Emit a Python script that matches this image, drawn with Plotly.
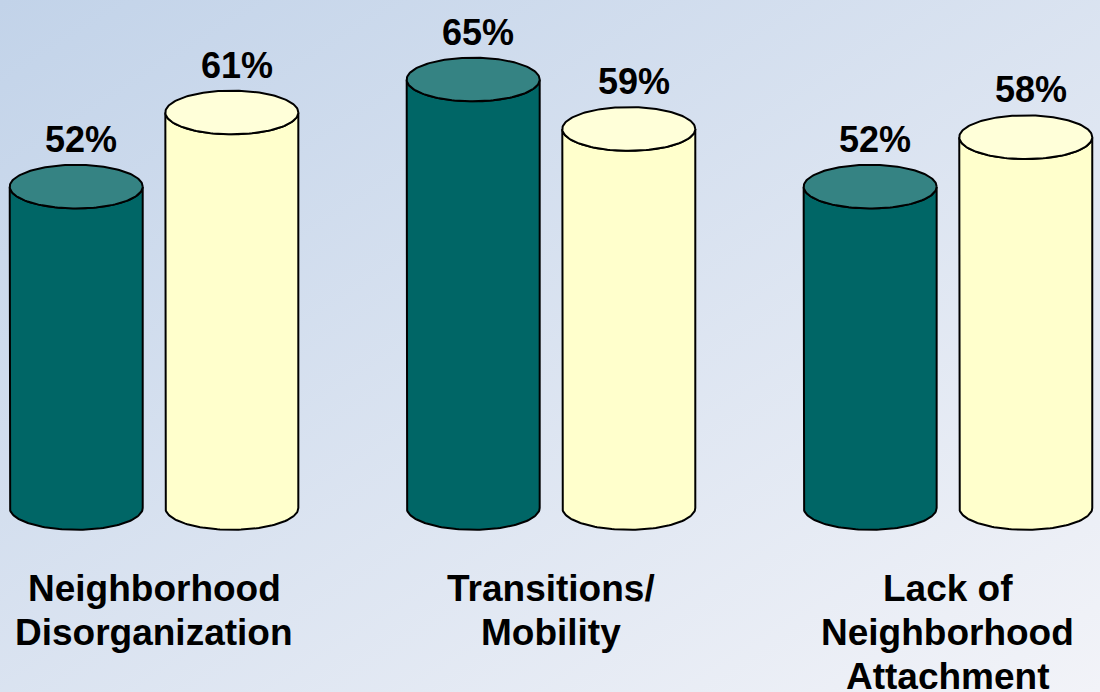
import base64

import numpy as np
import plotly.graph_objects as go

# data
categories = ["Neighborhood<br>Disorganization", "Transitions/<br>Mobility", "Lack of<br>Neighborhood<br>Attachment"]
dark_values = [52, 65, 52]
light_values = [61, 59, 58]
value_labels_dark = [f"{v}%" for v in dark_values]
value_labels_light = [f"{v}%" for v in light_values]

DARK_BODY, DARK_TOP = "#006666", "#358383"
LIGHT_BODY, LIGHT_TOP = "#FFFFCC", "#FFFFD9"
FONT = "Arial, Liberation Sans, sans-serif"

# cylinder geometry in axis units
BASE = 13.0      # axis value where the cylinders stand
RX = 0.1675      # half width of a cylinder
RY = 2.65        # half height of the ellipses
OFFSET = 0.196   # distance of each cylinder from its group centre
LINE_GAP = 44    # px between label lines


def add_cylinder(fig, xc, value, body, top):
    t = np.linspace(0, np.pi, 80)
    bx = xc - RX * np.cos(t)
    by = BASE - RY * np.sin(t)
    tx = xc + RX * np.cos(t)
    ty = value - RY * np.sin(t)
    fig.add_trace(go.Scatter(
        x=np.concatenate([[xc - RX], bx, tx]),
        y=np.concatenate([[value], by, ty]),
        mode="lines", fill="toself", fillcolor=body,
        line=dict(color="black", width=2), hoverinfo="skip", showlegend=False,
    ))
    a = np.linspace(0, 2 * np.pi, 160)
    fig.add_trace(go.Scatter(
        x=xc + RX * np.cos(a), y=value + RY * np.sin(a),
        mode="lines", fill="toself", fillcolor=top,
        line=dict(color="black", width=2), hoverinfo="skip", showlegend=False,
    ))


fig = go.Figure()
for i, (d, l) in enumerate(zip(dark_values, light_values)):
    add_cylinder(fig, i - OFFSET, d, DARK_BODY, DARK_TOP)
    add_cylinder(fig, i + OFFSET, l, LIGHT_BODY, LIGHT_TOP)

# value labels above the cylinders
for i, (d, l) in enumerate(zip(dark_values, light_values)):
    for xc, v, txt in [(i - OFFSET, d, value_labels_dark[i]), (i + OFFSET, l, value_labels_light[i])]:
        fig.add_annotation(x=xc, y=v + RY, text=f"<b>{txt}</b>", showarrow=False,
                           xanchor="center", yanchor="bottom", xshift=5, yshift=3,
                           font=dict(family=FONT, size=36, color="black"))

# category labels under each group, one annotation per line for tighter spacing
for i, cat in enumerate(categories):
    for k, line in enumerate(cat.split("<br>")):
        fig.add_annotation(x=i, y=0.182, yref="paper", text=f"<b>{line}</b>", showarrow=False,
                           xanchor="center", yanchor="top", yshift=-LINE_GAP * k,
                           font=dict(family=FONT, size=37, color="black"))

svg = (
    '<svg xmlns="http://www.w3.org/2000/svg" width="1100" height="692" preserveAspectRatio="none">'
    '<defs><linearGradient id="g" x1="0" y1="0" x2="1" y2="1">'
    '<stop offset="0" stop-color="#C2D3E9"/><stop offset="1" stop-color="#F2F3F8"/>'
    '</linearGradient></defs><rect width="1100" height="692" fill="url(#g)"/></svg>'
)
bg = "data:image/svg+xml;base64," + base64.b64encode(svg.encode()).decode()

fig.update_layout(
    width=1100, height=692,
    margin=dict(l=0, r=0, t=0, b=0),
    paper_bgcolor="rgba(0,0,0,0)", plot_bgcolor="rgba(0,0,0,0)",
    images=[dict(source=bg, xref="paper", yref="paper", x=0, y=1, sizex=1, sizey=1,
                 sizing="stretch", layer="below")],
    xaxis=dict(range=[-0.388, 2.383], visible=False, fixedrange=True),
    yaxis=dict(range=[-9.33, 74.65], visible=False, fixedrange=True),
    showlegend=False,
)

# drop the page's default body margin so the chart sits at the window corner
fig.write_html("out.html", config={"displayModeBar": False},
               post_script="document.body.style.margin='0';document.body.style.overflow='hidden';")
